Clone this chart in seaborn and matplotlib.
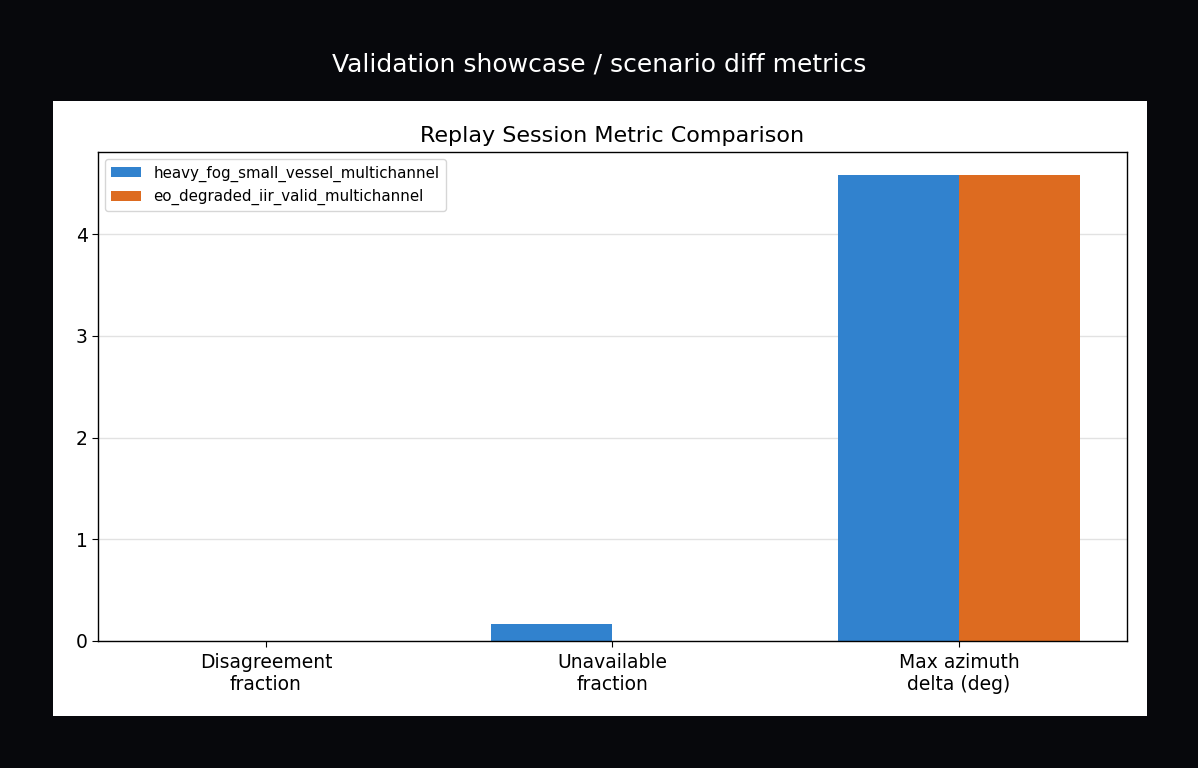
import pandas as pd
import matplotlib
matplotlib.use("Agg")
import matplotlib.pyplot as plt
from matplotlib.patches import Rectangle
import seaborn as sns

# 데이터
metrics = ["Disagreement\nfraction", "Unavailable\nfraction", "Max azimuth\ndelta (deg)"]
sessions = ["heavy_fog_small_vessel_multichannel", "eo_degraded_iir_valid_multichannel"]
fog_values = [0.0, 0.167, 4.58]
eo_values = [0.0, 0.0, 4.58]
colors = ["#3182ce", "#dd6b20"]

df = pd.DataFrame({
    "metric": metrics * 2,
    "session": [sessions[0]] * 3 + [sessions[1]] * 3,
    "value": fog_values + eo_values,
})

sns.set_style("white")
plt.rcParams["font.family"] = ["DejaVu Sans"]
plt.rcParams["text.color"] = "black"
plt.rcParams["xtick.color"] = "black"
plt.rcParams["ytick.color"] = "black"
plt.rcParams["axes.labelcolor"] = "black"

fig = plt.figure(figsize=(11.98, 7.68), dpi=100, facecolor="#07080c")
# 흰색 패널 배경
fig.patches.append(Rectangle((0.0442, 0.0677), 0.9132, 0.8008, transform=fig.transFigure,
                             facecolor="white", edgecolor="none", zorder=-10))
fig.suptitle("Validation showcase / scenario diff metrics", color="white", fontsize=18, y=0.932)

ax = fig.add_axes([0.0818, 0.1654, 0.8589, 0.6367])
sns.barplot(data=df, x="metric", y="value", hue="session", hue_order=sessions,
            palette=colors, width=0.7, saturation=1, errorbar=None, linewidth=0, ax=ax)

ax.set_xlim(-0.485, 2.485)
ax.set_ylim(0, 4.81)
ax.set_title("Replay Session Metric Comparison", fontsize=16, pad=7, color="black")
ax.set_xlabel("")
ax.set_ylabel("")
ax.tick_params(axis="both", labelsize=13.5, length=4, direction="out", bottom=True, left=True,
               colors="black")
ax.tick_params(axis="x", pad=5)
ax.yaxis.grid(True, color="#e2e2e2", linewidth=1)
ax.set_axisbelow(True)
for s in ax.spines.values():
    s.set_color("black")
    s.set_linewidth(1.0)
ax.legend(loc="upper left", fontsize=10.8, frameon=True)

fig.savefig("out.png", facecolor=fig.get_facecolor())
